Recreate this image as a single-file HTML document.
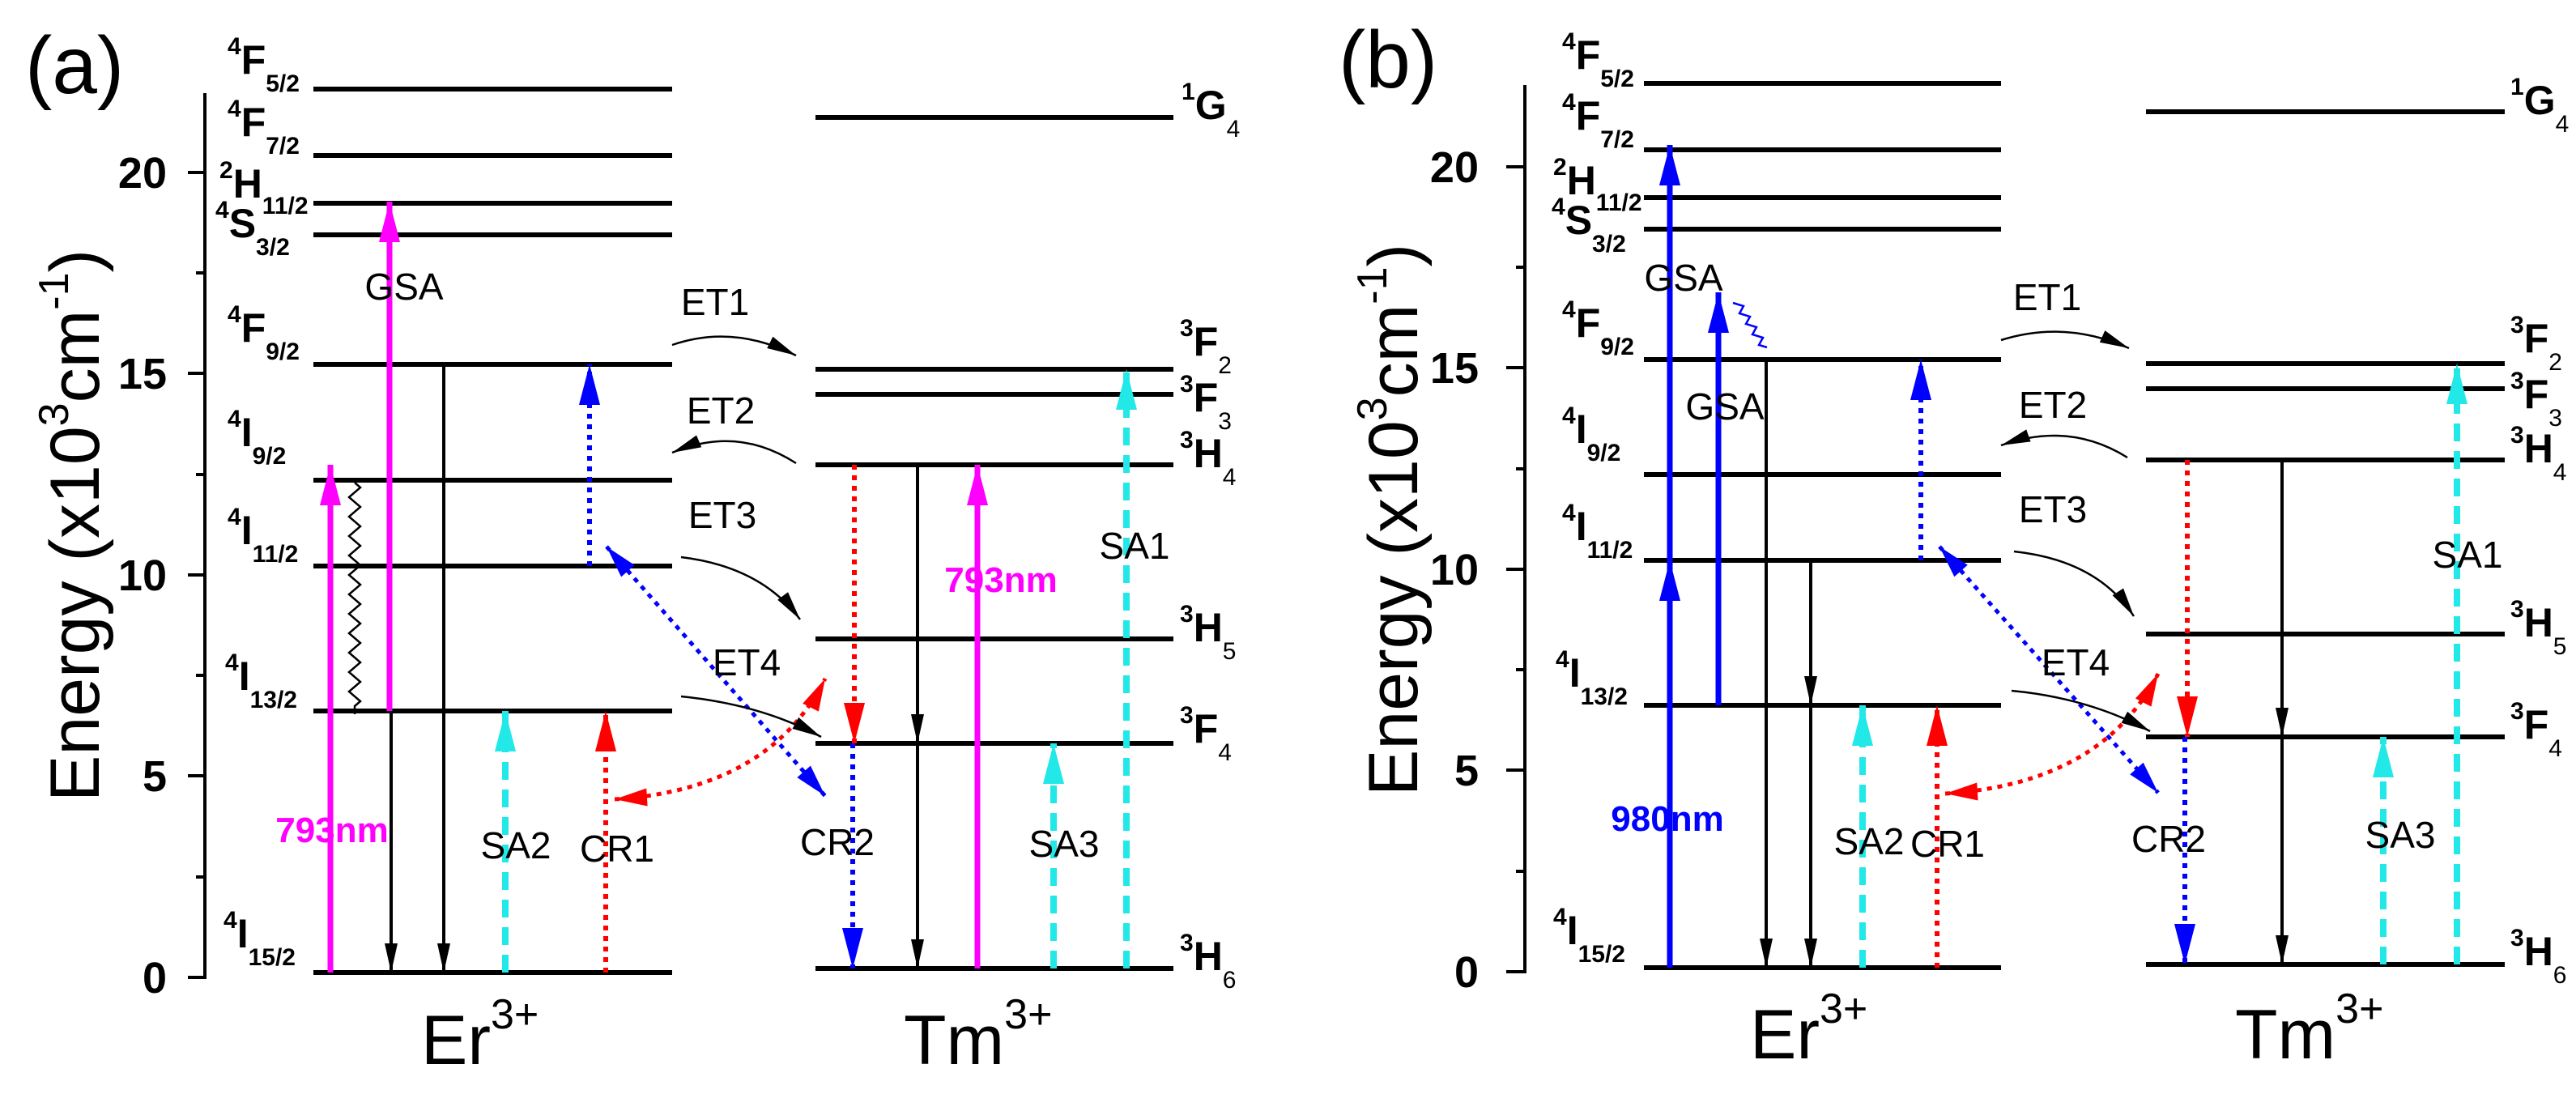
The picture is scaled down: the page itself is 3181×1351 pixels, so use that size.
<!DOCTYPE html>
<html><head><meta charset="utf-8"><style>
html,body{margin:0;padding:0;background:#fff;}
svg{display:block;font-family:"Liberation Sans",Arial,sans-serif;}
</style></head><body>
<svg width="3181" height="1351" viewBox="0 0 3181 1351" xmlns="http://www.w3.org/2000/svg">
<defs>
<marker id="mM" markerUnits="userSpaceOnUse" markerWidth="50" markerHeight="26" refX="50" refY="13" orient="auto" overflow="visible"><path d="M0,0 L50,13 L0,26 z" fill="#ff00ff"/></marker>
<marker id="mB" markerUnits="userSpaceOnUse" markerWidth="50" markerHeight="26" refX="50" refY="13" orient="auto-start-reverse" overflow="visible"><path d="M0,0 L50,13 L0,26 z" fill="#0000ff"/></marker>
<marker id="mBs" markerUnits="userSpaceOnUse" markerWidth="40" markerHeight="22" refX="40" refY="11" orient="auto-start-reverse" overflow="visible"><path d="M0,0 L40,11 L0,22 z" fill="#0000ff"/></marker>
<marker id="mR" markerUnits="userSpaceOnUse" markerWidth="50" markerHeight="26" refX="50" refY="13" orient="auto-start-reverse" overflow="visible"><path d="M0,0 L50,13 L0,26 z" fill="#ff0000"/></marker>
<marker id="mRs" markerUnits="userSpaceOnUse" markerWidth="40" markerHeight="22" refX="40" refY="11" orient="auto-start-reverse" overflow="visible"><path d="M0,0 L40,11 L0,22 z" fill="#ff0000"/></marker>
<marker id="mC" markerUnits="userSpaceOnUse" markerWidth="50" markerHeight="26" refX="50" refY="13" orient="auto" overflow="visible"><path d="M0,0 L50,13 L0,26 z" fill="#22e8e8"/></marker>
<marker id="mK" markerUnits="userSpaceOnUse" markerWidth="36" markerHeight="16" refX="36" refY="8" orient="auto" overflow="visible"><path d="M0,0 L36,8 L0,16 z" fill="#000"/></marker>
</defs>

<!-- ================= PANEL A ================= -->
<text x="31" y="115" font-size="100">(a)</text>
<g stroke="#000" stroke-width="4">
<line x1="253" y1="115" x2="253" y2="1209"/>
<line x1="232" y1="1207" x2="253" y2="1207"/>
<line x1="232" y1="958" x2="253" y2="958"/>
<line x1="232" y1="710" x2="253" y2="710"/>
<line x1="232" y1="461" x2="253" y2="461"/>
<line x1="232" y1="213" x2="253" y2="213"/>
<line x1="242" y1="1083" x2="253" y2="1083"/>
<line x1="242" y1="834" x2="253" y2="834"/>
<line x1="242" y1="586" x2="253" y2="586"/>
<line x1="242" y1="337" x2="253" y2="337"/>
</g>
<g font-size="54" font-weight="bold" text-anchor="end">
<text x="206" y="1226">0</text>
<text x="206" y="977">5</text>
<text x="206" y="729">10</text>
<text x="206" y="480">15</text>
<text x="206" y="232">20</text>
</g>
<text transform="translate(122,990) rotate(-90)" font-size="86">Energy (x10<tspan font-size="52" dy="-38">3</tspan><tspan dy="38">cm</tspan><tspan font-size="52" dy="-38">-1</tspan><tspan dy="38">)</tspan></text>

<g stroke="#000" stroke-width="6">
<line x1="387" y1="110" x2="830" y2="110"/>
<line x1="387" y1="192" x2="830" y2="192"/>
<line x1="387" y1="251" x2="830" y2="251"/>
<line x1="387" y1="290" x2="830" y2="290"/>
<line x1="387" y1="450" x2="830" y2="450"/>
<line x1="387" y1="593" x2="830" y2="593"/>
<line x1="387" y1="699" x2="830" y2="699"/>
<line x1="387" y1="878" x2="830" y2="878"/>
<line x1="387" y1="1201" x2="830" y2="1201"/>
<line x1="1007" y1="145" x2="1449" y2="145"/>
<line x1="1007" y1="456" x2="1449" y2="456"/>
<line x1="1007" y1="487" x2="1449" y2="487"/>
<line x1="1007" y1="574" x2="1449" y2="574"/>
<line x1="1007" y1="789" x2="1449" y2="789"/>
<line x1="1007" y1="918" x2="1449" y2="918"/>
<line x1="1007" y1="1196" x2="1449" y2="1196"/>
</g>
<g font-size="50" font-weight="bold">
<text x="281" y="91"><tspan font-size="30" dy="-24">4</tspan><tspan dy="24">F</tspan><tspan font-size="30" dy="22">5/2</tspan></text>
<text x="281" y="168"><tspan font-size="30" dy="-24">4</tspan><tspan dy="24">F</tspan><tspan font-size="30" dy="22">7/2</tspan></text>
<text x="271" y="244"><tspan font-size="30" dy="-24">2</tspan><tspan dy="24">H</tspan><tspan font-size="30" dy="20">11/2</tspan></text>
<text x="266" y="293"><tspan font-size="30" dy="-24">4</tspan><tspan dy="24">S</tspan><tspan font-size="30" dy="22">3/2</tspan></text>
<text x="281" y="422"><tspan font-size="30" dy="-24">4</tspan><tspan dy="24">F</tspan><tspan font-size="30" dy="22">9/2</tspan></text>
<text x="281" y="551"><tspan font-size="30" dy="-24">4</tspan><tspan dy="24">I</tspan><tspan font-size="30" dy="22">9/2</tspan></text>
<text x="281" y="672"><tspan font-size="30" dy="-24">4</tspan><tspan dy="24">I</tspan><tspan font-size="30" dy="22">11/2</tspan></text>
<text x="278" y="852"><tspan font-size="30" dy="-24">4</tspan><tspan dy="24">I</tspan><tspan font-size="30" dy="22">13/2</tspan></text>
<text x="276" y="1170"><tspan font-size="30" dy="-24">4</tspan><tspan dy="24">I</tspan><tspan font-size="30" dy="22">15/2</tspan></text>
<text x="1459" y="147"><tspan font-size="30" dy="-24">1</tspan><tspan dy="24">G</tspan><tspan font-size="30" font-weight="normal" dy="22">4</tspan></text>
<text x="1457" y="439"><tspan font-size="30" dy="-24">3</tspan><tspan dy="24">F</tspan><tspan font-size="30" font-weight="normal" dy="22">2</tspan></text>
<text x="1457" y="508"><tspan font-size="30" dy="-24">3</tspan><tspan dy="24">F</tspan><tspan font-size="30" font-weight="normal" dy="22">3</tspan></text>
<text x="1457" y="577"><tspan font-size="30" dy="-24">3</tspan><tspan dy="24">H</tspan><tspan font-size="30" font-weight="normal" dy="22">4</tspan></text>
<text x="1457" y="792"><tspan font-size="30" dy="-24">3</tspan><tspan dy="24">H</tspan><tspan font-size="30" font-weight="normal" dy="22">5</tspan></text>
<text x="1457" y="917"><tspan font-size="30" dy="-24">3</tspan><tspan dy="24">F</tspan><tspan font-size="30" font-weight="normal" dy="22">4</tspan></text>
<text x="1457" y="1198"><tspan font-size="30" dy="-24">3</tspan><tspan dy="24">H</tspan><tspan font-size="30" font-weight="normal" dy="22">6</tspan></text>
</g>

<line x1="408" y1="1201" x2="408" y2="574" stroke="#ff00ff" stroke-width="7" marker-end="url(#mM)"/>
<line x1="481" y1="878" x2="481" y2="249" stroke="#ff00ff" stroke-width="7" marker-end="url(#mM)"/>
<path d="M438,596 l7,6 l-14,12 l14,12 l-14,12 l14,12 l-14,12 l14,12 l-14,12 l14,12 l-14,12 l14,12 l-14,12 l14,12 l-14,12 l14,12 l-14,12 l14,12 l-14,12 l14,12 l-14,12 l14,12 l-14,12 l14,12 l-7,6 l0,10" fill="none" stroke="#000" stroke-width="2.5"/>
<line x1="483" y1="878" x2="483" y2="1201" stroke="#000" stroke-width="4" marker-end="url(#mK)"/>
<line x1="548" y1="450" x2="548" y2="1201" stroke="#000" stroke-width="4" marker-end="url(#mK)"/>
<line x1="624" y1="1201" x2="624" y2="878" stroke="#22e8e8" stroke-width="8" stroke-dasharray="22 12" marker-end="url(#mC)"/>
<line x1="748" y1="1201" x2="748" y2="878" stroke="#ff0000" stroke-width="6" stroke-dasharray="6 7" marker-end="url(#mR)"/>
<line x1="728" y1="699" x2="728" y2="450" stroke="#0000ff" stroke-width="6" stroke-dasharray="6 7" marker-end="url(#mB)"/>
<line x1="749" y1="675" x2="1019" y2="983" stroke="#0000ff" stroke-width="5" stroke-dasharray="6 7" marker-start="url(#mBs)" marker-end="url(#mBs)"/>
<path d="M759,987 Q950,975 1019,838" fill="none" stroke="#ff0000" stroke-width="5" stroke-dasharray="6 7" marker-start="url(#mRs)" marker-end="url(#mRs)"/>
<line x1="1055" y1="574" x2="1055" y2="918" stroke="#ff0000" stroke-width="6" stroke-dasharray="6 7" marker-end="url(#mR)"/>
<line x1="1053" y1="918" x2="1053" y2="1196" stroke="#0000ff" stroke-width="6" stroke-dasharray="6 7" marker-end="url(#mB)"/>
<line x1="1133" y1="574" x2="1133" y2="1196" stroke="#000" stroke-width="4" marker-end="url(#mK)"/>
<polygon points="1133,918 1125,882 1141,882" fill="#000"/>
<line x1="1207" y1="1196" x2="1207" y2="574" stroke="#ff00ff" stroke-width="7" marker-end="url(#mM)"/>
<line x1="1301" y1="1196" x2="1301" y2="918" stroke="#22e8e8" stroke-width="8" stroke-dasharray="22 12" marker-end="url(#mC)"/>
<line x1="1391" y1="1196" x2="1391" y2="456" stroke="#22e8e8" stroke-width="8" stroke-dasharray="22 12" marker-end="url(#mC)"/>
<g fill="none" stroke="#000" stroke-width="2.5">
<path d="M830,426 Q905,400 983,439" marker-end="url(#mK)"/>
<path d="M983,572 Q910,525 830,559" marker-end="url(#mK)"/>
<path d="M841,688 Q940,700 988,765" marker-end="url(#mK)"/>
<path d="M841,860 Q940,870 1014,910" marker-end="url(#mK)"/>
</g>
<g font-size="46" text-anchor="middle">
<text x="499" y="370">GSA</text>
<text x="883" y="389">ET1</text>
<text x="890" y="523">ET2</text>
<text x="892" y="652">ET3</text>
<text x="922" y="834">ET4</text>
<text x="637" y="1060">SA2</text>
<text x="762" y="1064">CR1</text>
<text x="1034" y="1056">CR2</text>
<text x="1314" y="1058">SA3</text>
<text x="1401" y="690">SA1</text>
<text x="410" y="1040" font-weight="bold" fill="#ff00ff" font-size="44">793nm</text>
<text x="1236" y="731" font-weight="bold" fill="#ff00ff" font-size="44">793nm</text>
</g>
<text x="520" y="1314" font-size="86">Er<tspan font-size="52" dy="-44">3+</tspan></text>
<text x="1116" y="1314" font-size="86">Tm<tspan font-size="52" dy="-44">3+</tspan></text>

<!-- ================= PANEL B ================= -->
<text x="1653" y="108" font-size="100">(b)</text>
<g stroke="#000" stroke-width="4">
<line x1="1883" y1="105" x2="1883" y2="1202"/>
<line x1="1860" y1="1200" x2="1883" y2="1200"/>
<line x1="1860" y1="951" x2="1883" y2="951"/>
<line x1="1860" y1="703" x2="1883" y2="703"/>
<line x1="1860" y1="454" x2="1883" y2="454"/>
<line x1="1860" y1="206" x2="1883" y2="206"/>
<line x1="1872" y1="1076" x2="1883" y2="1076"/>
<line x1="1872" y1="827" x2="1883" y2="827"/>
<line x1="1872" y1="579" x2="1883" y2="579"/>
<line x1="1872" y1="330" x2="1883" y2="330"/>
</g>
<g font-size="54" font-weight="bold" text-anchor="end">
<text x="1826" y="1219">0</text>
<text x="1826" y="970">5</text>
<text x="1826" y="722">10</text>
<text x="1826" y="473">15</text>
<text x="1826" y="225">20</text>
</g>
<text transform="translate(1750,983) rotate(-90)" font-size="86">Energy (x10<tspan font-size="52" dy="-38">3</tspan><tspan dy="38">cm</tspan><tspan font-size="52" dy="-38">-1</tspan><tspan dy="38">)</tspan></text>

<g stroke="#000" stroke-width="6">
<line x1="2030" y1="103" x2="2471" y2="103"/>
<line x1="2030" y1="185" x2="2471" y2="185"/>
<line x1="2030" y1="244" x2="2471" y2="244"/>
<line x1="2030" y1="283" x2="2471" y2="283"/>
<line x1="2030" y1="444" x2="2471" y2="444"/>
<line x1="2030" y1="586" x2="2471" y2="586"/>
<line x1="2030" y1="692" x2="2471" y2="692"/>
<line x1="2030" y1="871" x2="2471" y2="871"/>
<line x1="2030" y1="1195" x2="2471" y2="1195"/>
<line x1="2650" y1="138" x2="3093" y2="138"/>
<line x1="2650" y1="449" x2="3093" y2="449"/>
<line x1="2650" y1="480" x2="3093" y2="480"/>
<line x1="2650" y1="568" x2="3093" y2="568"/>
<line x1="2650" y1="783" x2="3093" y2="783"/>
<line x1="2650" y1="910" x2="3093" y2="910"/>
<line x1="2650" y1="1191" x2="3093" y2="1191"/>
</g>
<g font-size="50" font-weight="bold">
<text x="1929" y="85"><tspan font-size="30" dy="-24">4</tspan><tspan dy="24">F</tspan><tspan font-size="30" dy="22">5/2</tspan></text>
<text x="1929" y="160"><tspan font-size="30" dy="-24">4</tspan><tspan dy="24">F</tspan><tspan font-size="30" dy="22">7/2</tspan></text>
<text x="1918" y="240"><tspan font-size="30" dy="-24">2</tspan><tspan dy="24">H</tspan><tspan font-size="30" dy="20">11/2</tspan></text>
<text x="1916" y="289"><tspan font-size="30" dy="-24">4</tspan><tspan dy="24">S</tspan><tspan font-size="30" dy="22">3/2</tspan></text>
<text x="1929" y="416"><tspan font-size="30" dy="-24">4</tspan><tspan dy="24">F</tspan><tspan font-size="30" dy="22">9/2</tspan></text>
<text x="1929" y="547"><tspan font-size="30" dy="-24">4</tspan><tspan dy="24">I</tspan><tspan font-size="30" dy="22">9/2</tspan></text>
<text x="1929" y="667"><tspan font-size="30" dy="-24">4</tspan><tspan dy="24">I</tspan><tspan font-size="30" dy="22">11/2</tspan></text>
<text x="1921" y="848"><tspan font-size="30" dy="-24">4</tspan><tspan dy="24">I</tspan><tspan font-size="30" dy="22">13/2</tspan></text>
<text x="1918" y="1166"><tspan font-size="30" dy="-24">4</tspan><tspan dy="24">I</tspan><tspan font-size="30" dy="22">15/2</tspan></text>
<text x="3100" y="141"><tspan font-size="30" dy="-24">1</tspan><tspan dy="24">G</tspan><tspan font-size="30" font-weight="normal" dy="22">4</tspan></text>
<text x="3100" y="435"><tspan font-size="30" dy="-24">3</tspan><tspan dy="24">F</tspan><tspan font-size="30" font-weight="normal" dy="22">2</tspan></text>
<text x="3100" y="504"><tspan font-size="30" dy="-24">3</tspan><tspan dy="24">F</tspan><tspan font-size="30" font-weight="normal" dy="22">3</tspan></text>
<text x="3100" y="571"><tspan font-size="30" dy="-24">3</tspan><tspan dy="24">H</tspan><tspan font-size="30" font-weight="normal" dy="22">4</tspan></text>
<text x="3100" y="786"><tspan font-size="30" dy="-24">3</tspan><tspan dy="24">H</tspan><tspan font-size="30" font-weight="normal" dy="22">5</tspan></text>
<text x="3100" y="912"><tspan font-size="30" dy="-24">3</tspan><tspan dy="24">F</tspan><tspan font-size="30" font-weight="normal" dy="22">4</tspan></text>
<text x="3100" y="1192"><tspan font-size="30" dy="-24">3</tspan><tspan dy="24">H</tspan><tspan font-size="30" font-weight="normal" dy="22">6</tspan></text>
</g>

<line x1="2062" y1="1195" x2="2062" y2="179" stroke="#0000ff" stroke-width="7" marker-end="url(#mB)"/>
<polygon points="2062,692 2049,742 2075,742" fill="#0000ff"/>
<line x1="2122" y1="871" x2="2122" y2="361" stroke="#0000ff" stroke-width="7" marker-end="url(#mB)"/>
<path d="M2140,374 l13,4 l-5,9 l13,4 l-5,9 l13,4 l-5,9 l13,4 l-5,9 l10,3" fill="none" stroke="#0000ff" stroke-width="2.5"/>
<line x1="2181" y1="444" x2="2181" y2="1195" stroke="#000" stroke-width="4" marker-end="url(#mK)"/>
<line x1="2236" y1="692" x2="2236" y2="1195" stroke="#000" stroke-width="4" marker-end="url(#mK)"/>
<polygon points="2236,871 2228,835 2244,835" fill="#000"/>
<line x1="2300" y1="1195" x2="2300" y2="871" stroke="#22e8e8" stroke-width="8" stroke-dasharray="22 12" marker-end="url(#mC)"/>
<line x1="2392" y1="1195" x2="2392" y2="871" stroke="#ff0000" stroke-width="6" stroke-dasharray="6 7" marker-end="url(#mR)"/>
<line x1="2372" y1="692" x2="2372" y2="444" stroke="#0000ff" stroke-width="6" stroke-dasharray="6 7" marker-end="url(#mB)"/>
<line x1="2395" y1="675" x2="2665" y2="979" stroke="#0000ff" stroke-width="5" stroke-dasharray="6 7" marker-start="url(#mBs)" marker-end="url(#mBs)"/>
<path d="M2402,980 Q2595,968 2665,832" fill="none" stroke="#ff0000" stroke-width="5" stroke-dasharray="6 7" marker-start="url(#mRs)" marker-end="url(#mRs)"/>
<line x1="2701" y1="568" x2="2701" y2="910" stroke="#ff0000" stroke-width="6" stroke-dasharray="6 7" marker-end="url(#mR)"/>
<line x1="2698" y1="910" x2="2698" y2="1191" stroke="#0000ff" stroke-width="6" stroke-dasharray="6 7" marker-end="url(#mB)"/>
<line x1="2818" y1="568" x2="2818" y2="1191" stroke="#000" stroke-width="4" marker-end="url(#mK)"/>
<polygon points="2818,910 2810,874 2826,874" fill="#000"/>
<line x1="2943" y1="1191" x2="2943" y2="910" stroke="#22e8e8" stroke-width="8" stroke-dasharray="22 12" marker-end="url(#mC)"/>
<line x1="3034" y1="1191" x2="3034" y2="449" stroke="#22e8e8" stroke-width="8" stroke-dasharray="22 12" marker-end="url(#mC)"/>
<g fill="none" stroke="#000" stroke-width="2.5">
<path d="M2471,420 Q2550,395 2629,430" marker-end="url(#mK)"/>
<path d="M2627,565 Q2555,520 2471,550" marker-end="url(#mK)"/>
<path d="M2487,681 Q2590,692 2635,761" marker-end="url(#mK)"/>
<path d="M2484,853 Q2580,862 2655,903" marker-end="url(#mK)"/>
</g>
<g font-size="46" text-anchor="middle">
<text x="2079" y="359">GSA</text>
<text x="2130" y="518">GSA</text>
<text x="2528" y="383">ET1</text>
<text x="2535" y="516">ET2</text>
<text x="2535" y="645">ET3</text>
<text x="2563" y="834">ET4</text>
<text x="2308" y="1055">SA2</text>
<text x="2405" y="1058">CR1</text>
<text x="2678" y="1052">CR2</text>
<text x="2964" y="1047">SA3</text>
<text x="3047" y="701">SA1</text>
<text x="2059" y="1026" font-weight="bold" fill="#0000ff" font-size="44">980nm</text>
</g>
<text x="2161" y="1307" font-size="86">Er<tspan font-size="52" dy="-44">3+</tspan></text>
<text x="2760" y="1307" font-size="86">Tm<tspan font-size="52" dy="-44">3+</tspan></text>
</svg>
</body></html>
